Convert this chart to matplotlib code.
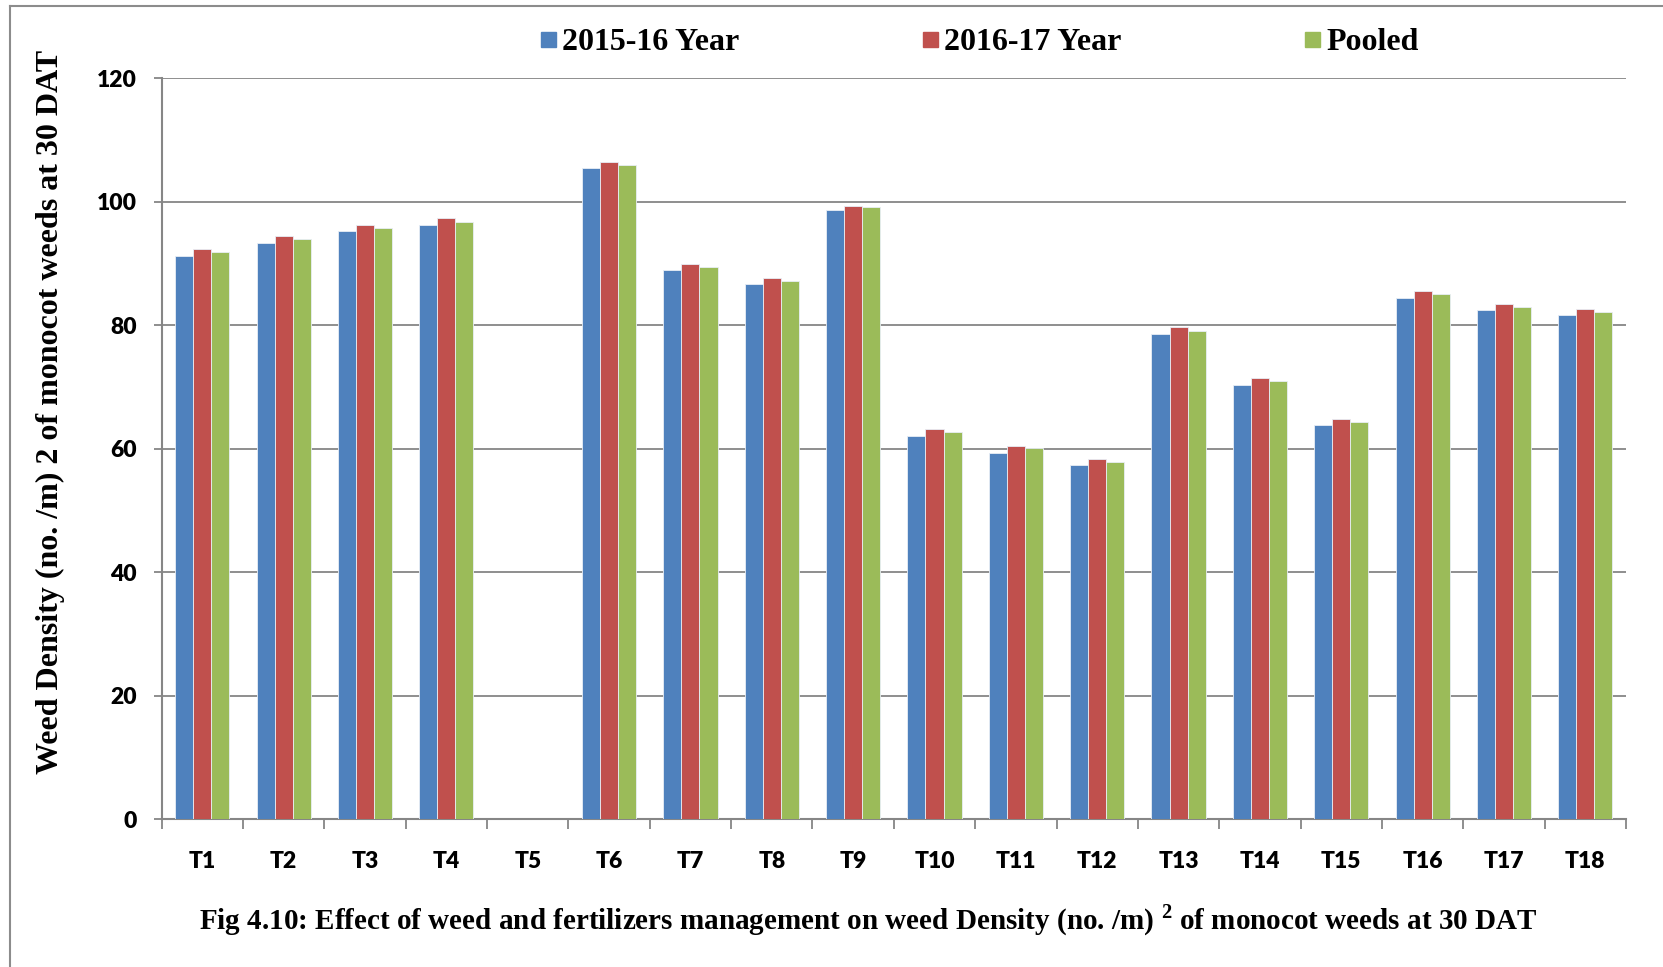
import matplotlib
matplotlib.use("Agg")
import matplotlib.pyplot as plt
import numpy as np
from matplotlib.lines import Line2D
from matplotlib.patches import Rectangle

categories = ["T1", "T2", "T3", "T4", "T5", "T6", "T7", "T8", "T9", "T10",
              "T11", "T12", "T13", "T14", "T15", "T16", "T17", "T18"]
y2015 = [91.3, 93.4, 95.3, 96.3, 0, 105.4, 88.9, 86.7, 98.7, 62.1,
         59.4, 57.3, 78.6, 70.4, 63.9, 84.5, 82.4, 81.6]
y2016 = [92.4, 94.4, 96.3, 97.3, 0, 106.4, 90.0, 87.7, 99.4, 63.2,
         60.4, 58.4, 79.7, 71.4, 64.9, 85.5, 83.4, 82.7]
pooled = [91.8, 93.9, 95.8, 96.8, 0, 105.9, 89.4, 87.2, 99.1, 62.7,
          60.1, 57.9, 79.1, 70.9, 64.4, 85.0, 82.9, 82.2]
series_names = ["2015-16 Year", "2016-17 Year", "Pooled"]
colors = ["#4F81BD", "#C0504D", "#9BBB59"]
yticks = [0, 20, 40, 60, 80, 100, 120]

plt.rcParams["mathtext.fontset"] = "custom"
plt.rcParams["mathtext.bf"] = "Liberation Serif:bold"
plt.rcParams["mathtext.rm"] = "Liberation Serif:bold"

W, H = 1663, 967
fig = plt.figure(figsize=(W / 100, H / 100), dpi=100)
left, right, top, bottom = 161.6, 1626, 78.3, 819.3
ax = fig.add_axes([left / W, 1 - bottom / H, (right - left) / W, (bottom - top) / H])

x = np.arange(len(categories))
bw = 0.222
for i, (vals, c) in enumerate(zip([y2015, y2016, pooled], colors)):
    ax.bar(x + (i - 1) * bw, vals, width=bw, color=c, edgecolor="#e8eef6",
           linewidth=0.6, zorder=3)

ax.set_xlim(-0.5, len(categories) - 0.5)
ax.set_ylim(0, 120)
ax.set_yticks(yticks)
ax.set_yticklabels([str(v) for v in yticks])
ax.yaxis.grid(True, color="#868686", linewidth=1.3, zorder=0)
ax.set_axisbelow(True)

ax.set_xticks(np.arange(len(categories) + 1) - 0.5)
ax.set_xticklabels([])
ax.set_xticks(x, minor=True)
ax.set_xticklabels(categories, minor=True)
ax.tick_params(axis="x", which="major", length=7, width=1.3, color="#868686", direction="out")
ax.tick_params(axis="x", which="minor", length=0, pad=23)
ax.tick_params(axis="y", length=6, width=1.3, color="#868686", pad=12)

for lab in ax.get_xticklabels(minor=True) + ax.get_yticklabels():
    lab.set_fontfamily("Lato")
    lab.set_fontweight("heavy")
    lab.set_fontsize(16.5)

for s in ["top", "right"]:
    ax.spines[s].set_visible(False)
for s in ["left", "bottom"]:
    ax.spines[s].set_color("#868686")
    ax.spines[s].set_linewidth(1.5)

serif = "Liberation Serif"
fig.text(50 / W, 1 - 412 / H, "Weed Density (no. /m) 2 of monocot weeds at 30 DAT",
         fontfamily=serif, fontweight="bold", fontsize=23, rotation=90,
         ha="center", va="center")

# legend
leg_x = [541, 923, 1305]
for lx, name, c in zip(leg_x, series_names, colors):
    fig.patches.append(Rectangle((lx / W, 1 - 47 / H), 15 / W, 15 / H,
                                 transform=fig.transFigure, color=c))
    fig.text((lx + 21) / W, 1 - 42 / H, name, fontfamily=serif, fontweight="bold",
             fontsize=23, va="center", ha="left")

fig.text(868 / W, 1 - 920 / H,
         r"Fig 4.10: Effect of weed and fertilizers management on weed Density (no. /m) $^{\mathbf{2}}$ of monocot weeds at 30 DAT",
         fontfamily=serif, fontweight="bold", fontsize=21, ha="center", va="center")

# figure frame lines
fig.add_artist(Line2D([10 / W, 10 / W], [0, 1 - 5.7 / H], transform=fig.transFigure,
                      color="#8c8c8c", linewidth=1.5))
fig.add_artist(Line2D([10 / W, 1], [1 - 5.7 / H, 1 - 5.7 / H], transform=fig.transFigure,
                      color="#8c8c8c", linewidth=1.5))

fig.savefig("out.png", dpi=100)
